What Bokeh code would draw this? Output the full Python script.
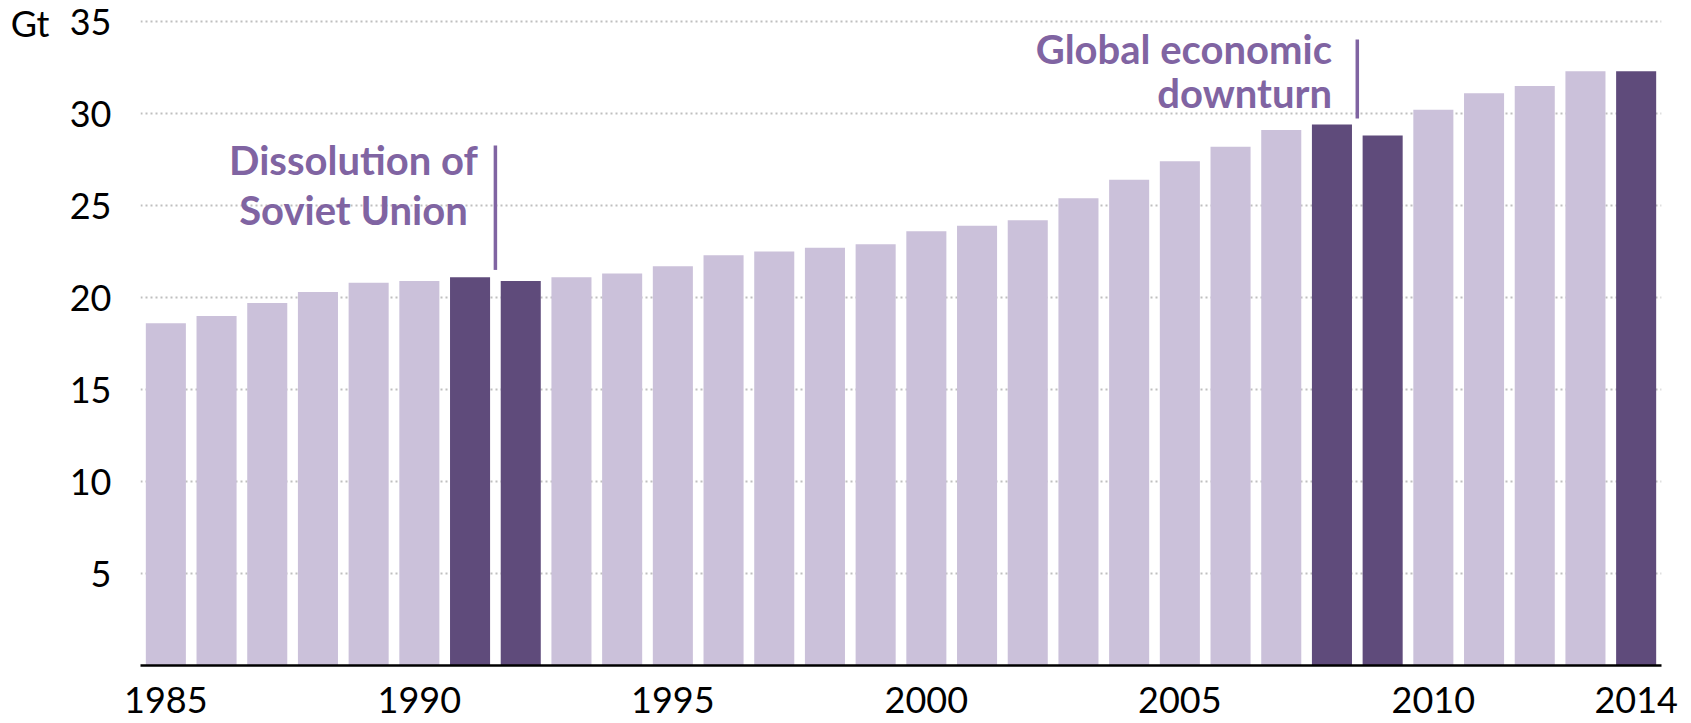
from bokeh.plotting import figure
from bokeh.models import Range1d, FixedTicker, ColumnDataSource, LinearAxis
from bokeh.core.properties import value
from bokeh.embed import file_html
from bokeh.resources import INLINE

# ---- data ----
years = list(range(1985, 2015))
emissions = [18.6, 19.0, 19.7, 20.3, 20.8, 20.9, 21.1, 20.9, 21.1, 21.3,
             21.7, 22.3, 22.5, 22.7, 22.9, 23.6, 23.9, 24.2, 25.4, 26.4,
             27.4, 28.2, 29.1, 29.4, 28.8, 30.2, 31.1, 31.5, 32.3, 32.3]
highlight_years = [1991, 1992, 2008, 2009, 2014]
x_tick_years = [1985, 1990, 1995, 2000, 2005, 2010, 2014]
y_ticks = [5, 10, 15, 20, 25, 30, 35]
unit_label = "Gt"
note1_lines = ["Dissolution of", "Soviet Union"]
note2_lines = ["Global economic", "downturn"]

LIGHT = "#CBC1DA"
DARK = "#5F4B7B"
NOTE = "#8064A2"
FONT = "Lato"

colors = [DARK if y in highlight_years else LIGHT for y in years]
src = ColumnDataSource(dict(x=years, top=emissions, color=colors))

p = figure(width=1691, height=723, output_backend="svg", toolbar_location=None,
           x_range=Range1d(years[0] - 0.5, years[-1] + 0.5),
           y_range=Range1d(0, 35.6),
           min_border_left=140, min_border_right=30,
           min_border_top=10, min_border_bottom=58)
p.outline_line_color = None
p.background_fill_color = "white"

p.vbar(x="x", top="top", width=0.79, bottom=0, color="color", source=src, line_color=None)

# axes
p.xaxis.ticker = FixedTicker(ticks=x_tick_years)
p.xaxis.major_tick_line_color = None
p.xaxis.minor_tick_line_color = None
p.xaxis.major_tick_out = 0
p.xaxis.axis_line_color = "black"
p.xaxis.axis_line_width = 2.5
p.xaxis.major_label_text_font = FONT
p.xaxis.major_label_text_font_size = "36px"
p.xaxis.major_label_text_color = "black"
p.xaxis.major_label_standoff = 21

p.yaxis.ticker = FixedTicker(ticks=y_ticks)
p.yaxis.axis_line_color = None
p.yaxis.major_tick_line_color = None
p.yaxis.minor_tick_line_color = None
p.yaxis.major_tick_out = 0
p.yaxis.major_label_text_font = FONT
p.yaxis.major_label_text_font_size = "36px"
p.yaxis.major_label_text_color = "black"
p.yaxis.major_label_standoff = 29

# unit label as an outer left axis carrying only the top tick
unit_axis = LinearAxis(ticker=FixedTicker(ticks=[y_ticks[-1]]),
                       major_label_overrides={y_ticks[-1]: unit_label},
                       axis_line_color=None, major_tick_line_color=None,
                       minor_tick_line_color=None, major_tick_out=0,
                       major_label_standoff=17,
                       major_label_text_font=FONT, major_label_text_font_size="36px",
                       major_label_text_color="black")
p.add_layout(unit_axis, "left")

p.xgrid.visible = False
p.ygrid.ticker = FixedTicker(ticks=y_ticks)
p.ygrid.grid_line_color = "#BFBFBF"
p.ygrid.grid_line_width = 2
p.ygrid.grid_line_dash = "2 3"

# annotations
p.segment(x0=[1991.5, 2008.5], y0=[21.5, 29.73], x1=[1991.5, 2008.5], y1=[28.26, 34.02],
          line_color=NOTE, line_width=3.5)

p.text(x=[1988.7, 1988.7], y=[27.5, 24.76], text=note1_lines,
       text_font=value(FONT), text_font_style="bold", text_font_size="40px",
       text_color=NOTE, text_align="center", text_baseline="alphabetic")
p.text(x=[2008.0, 2008.0], y=[33.5, 31.1], text=note2_lines,
       text_font=value(FONT), text_font_style="bold", text_font_size="40px",
       text_color=NOTE, text_align="right", text_baseline="alphabetic")

open("out.html", "w").write(file_html(p, INLINE))
